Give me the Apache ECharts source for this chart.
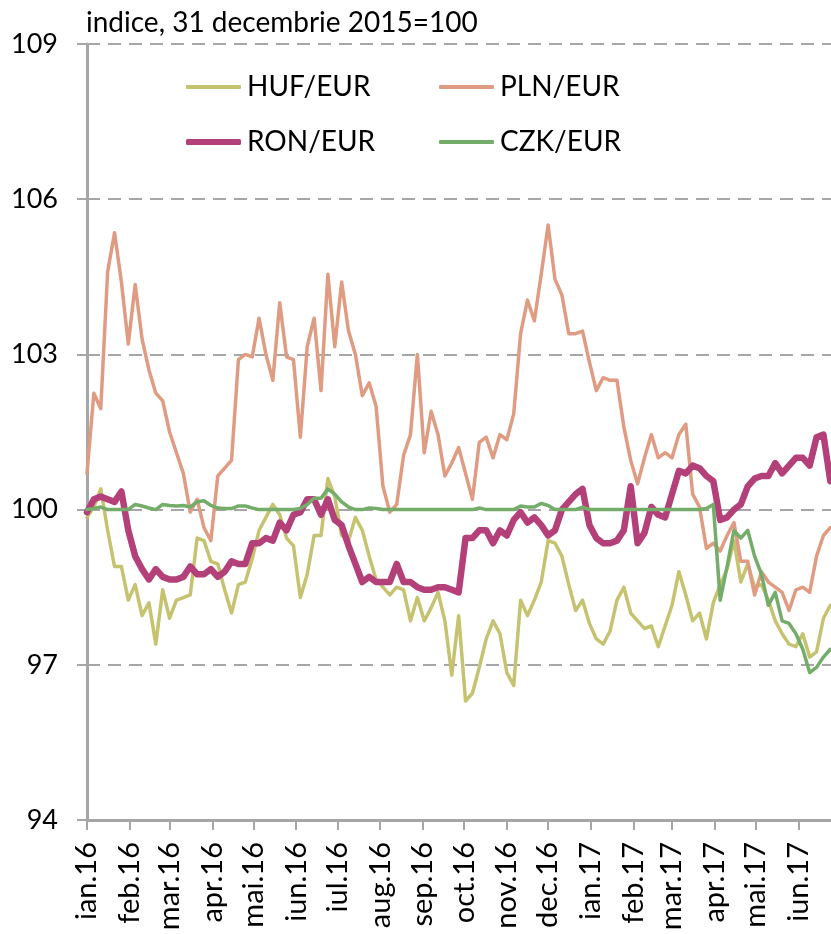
<!DOCTYPE html>
<html>
<head>
<meta charset="utf-8">
<script src="https://cdn.jsdelivr.net/npm/echarts@6/dist/echarts.min.js"></script>
<style>
html, body { margin: 0; padding: 0; background: #fff; }
#main { width: 831px; height: 934px; }
</style>
</head>
<body>
<div id="main"></div>
<script>
// un punct la fiecare 5 zile, incepand cu 1 ianuarie 2016
var startYear = 2016, startMonth = 0, startDay = 1;
var stepDays = 5;
var monthNames = ['ian', 'feb', 'mar', 'apr', 'mai', 'iun', 'iul', 'aug', 'sep', 'oct', 'nov', 'dec'];
var seriesNames = ['HUF/EUR', 'PLN/EUR', 'RON/EUR', 'CZK/EUR'];

var huf = [99.85, 100.05, 100.4, 99.6, 98.9, 98.9, 98.25, 98.55, 97.95, 98.2,
  97.4, 98.45, 97.9, 98.25, 98.3, 98.35, 99.45, 99.4, 99.0, 98.95,
  98.45, 98.0, 98.55, 98.6, 99.05, 99.6, 99.85, 100.1, 99.9, 99.45,
  99.3, 98.3, 98.75, 99.5, 99.5, 100.6, 100.25, 99.5, 99.4, 99.85,
  99.6, 99.1, 98.65, 98.5, 98.35, 98.5, 98.45, 97.85, 98.3, 97.85,
  98.1, 98.4, 97.85, 96.8, 97.95, 96.3, 96.45, 96.95, 97.5, 97.85,
  97.6, 96.85, 96.6, 98.25, 97.95, 98.25, 98.6, 99.4, 99.35, 99.1,
  98.55, 98.05, 98.25, 97.8, 97.5, 97.4, 97.65, 98.25, 98.5, 98.0,
  97.85, 97.7, 97.75, 97.35, 97.75, 98.15, 98.8, 98.35, 97.85, 98.0,
  97.5, 98.2, 98.55, 98.85, 99.4, 98.6, 98.95, 98.5, 98.55, 98.25,
  97.85, 97.6, 97.4, 97.35, 97.6, 97.15, 97.25, 97.9, 98.15];

var pln = [100.7, 102.25, 101.95, 104.6, 105.35, 104.4, 103.2, 104.35, 103.3, 102.7,
  102.25, 102.1, 101.5, 101.1, 100.7, 99.95, 100.2, 99.65, 99.4, 100.65,
  100.8, 100.95, 102.9, 103.0, 102.95, 103.7, 103.0, 102.5, 104.0, 102.95,
  102.9, 101.4, 103.15, 103.7, 102.3, 104.55, 103.15, 104.4, 103.45, 103.0,
  102.2, 102.45, 102.0, 100.45, 99.95, 100.1, 101.05, 101.45, 103.0, 101.1,
  101.9, 101.45, 100.65, 100.9, 101.2, 100.7, 100.2, 101.3, 101.4, 101.0,
  101.45, 101.35, 101.85, 103.4, 104.05, 103.65, 104.55, 105.5, 104.45, 104.15,
  103.4, 103.4, 103.45, 102.85, 102.3, 102.55, 102.5, 102.5, 101.6, 100.95,
  100.5, 101.0, 101.45, 101.0, 101.1, 101.0, 101.45, 101.65, 100.3, 100.05,
  99.25, 99.35, 99.2, 99.5, 99.75, 99.0, 99.0, 98.35, 98.8, 98.6,
  98.5, 98.4, 98.05, 98.45, 98.5, 98.4, 99.1, 99.5, 99.65];

var ron = [99.95, 100.2, 100.25, 100.2, 100.15, 100.35, 99.6, 99.1, 98.85, 98.65,
  98.85, 98.7, 98.65, 98.65, 98.7, 98.9, 98.75, 98.75, 98.85, 98.7,
  98.8, 99.0, 98.95, 98.95, 99.35, 99.35, 99.45, 99.4, 99.75, 99.6,
  99.9, 99.95, 100.2, 100.2, 99.9, 100.2, 99.8, 99.7, 99.3, 98.95,
  98.6, 98.7, 98.6, 98.6, 98.6, 98.95, 98.6, 98.6, 98.5, 98.45,
  98.45, 98.5, 98.5, 98.45, 98.4, 99.45, 99.45, 99.6, 99.6, 99.35,
  99.6, 99.5, 99.8, 99.95, 99.75, 99.85, 99.7, 99.5, 99.6, 100.0,
  100.15, 100.3, 100.4, 99.7, 99.45, 99.35, 99.35, 99.4, 99.6, 100.45,
  99.35, 99.55, 100.05, 99.9, 99.85, 100.3, 100.75, 100.7, 100.85, 100.8,
  100.65, 100.55, 99.8, 99.85, 100.0, 100.1, 100.45, 100.6, 100.65, 100.65,
  100.9, 100.7, 100.85, 101.0, 101.0, 100.85, 101.4, 101.45, 100.55];

var czk = [100.0, 100.02, 100.05, 100.0, 100.0, 100.0, 100.0, 100.1, 100.07, 100.03,
  100.0, 100.1, 100.08, 100.07, 100.08, 100.05, 100.15, 100.17, 100.08, 100.03,
  100.02, 100.02, 100.07, 100.07, 100.03, 100.0, 100.0, 100.0, 100.0, 100.0,
  100.0, 100.02, 100.1, 100.22, 100.22, 100.4, 100.3, 100.15, 100.05, 100.0,
  100.0, 100.03, 100.02, 100.0, 100.0, 100.0, 100.0, 100.0, 100.0, 100.0,
  100.0, 100.0, 100.0, 100.0, 100.0, 100.0, 100.0, 100.03, 100.0, 100.0,
  100.0, 100.0, 100.0, 100.07, 100.05, 100.05, 100.12, 100.08, 100.0, 100.0,
  100.0, 100.0, 100.05, 100.0, 100.0, 100.0, 100.0, 100.0, 100.0, 100.0,
  100.0, 100.0, 100.0, 100.0, 100.0, 100.0, 100.0, 100.0, 100.0, 100.0,
  100.02, 100.1, 98.25, 98.9, 99.6, 99.45, 99.6, 99.1, 98.75, 98.15,
  98.4, 97.85, 97.8, 97.6, 97.3, 96.85, 96.95, 97.15, 97.3];

var colors = ['#C5C36F', '#DF9C82', '#B4407A', '#74AC69'];
var widths = [3.5, 3.5, 6.5, 3.5];
var allValues = [huf, pln, ron, czk];

function dateAt(i) {
  return new Date(startYear, startMonth, startDay + stepDays * i).getTime();
}

var myChart = echarts.init(document.getElementById('main'));

var series = allValues.map(function (vals, k) {
  return {
    name: seriesNames[k],
    type: 'line',
    symbol: 'none',
    smooth: false,
    animation: false,
    lineStyle: { color: colors[k], width: widths[k], join: 'round', cap: 'round' },
    itemStyle: { color: colors[k] },
    data: vals.map(function (v, i) { return [dateAt(i), v]; })
  };
});

// o legenda pentru fiecare serie, asezate pe doua randuri
var legendPos = [[186, 73], [439, 73], [186, 128], [439, 128]];
var legends = seriesNames.map(function (n, k) {
  return {
    data: [{ name: n, icon: 'roundRect' }],
    left: legendPos[k][0],
    top: legendPos[k][1],
    padding: 0,
    itemWidth: 55,
    itemHeight: k == 2 ? 6 : 4,
    itemGap: 0,
    selectedMode: false,
    textStyle: { fontFamily: 'Lato', fontSize: 28, color: '#000', padding: [0, 0, 0, 1] }
  };
});

var option = {
  backgroundColor: '#fff',
  animation: false,
  color: colors,
  title: {
    text: 'indice, 31 decembrie 2015=100',
    left: 86,
    top: 9,
    padding: 0,
    textStyle: { fontFamily: 'Lato', fontSize: 28, fontWeight: 'normal', color: '#000' }
  },
  legend: legends,
  grid: { left: 87, right: 0, top: 44, bottom: 114, containLabel: false, outerBoundsMode: 'none' },
  xAxis: {
    type: 'time',
    min: dateAt(0),
    max: new Date(2017, 5, 24, 12).getTime(),
    splitNumber: 18,
    minInterval: 28 * 86400000,
    maxInterval: 31 * 86400000,
    axisLine: { show: true, lineStyle: { color: '#A6A6A6', width: 3 } },
    axisTick: { show: true, length: 10, lineStyle: { color: '#A6A6A6', width: 2 } },
    splitLine: { show: false },
    axisLabel: {
      rotate: 90,
      margin: 22,
      showMinLabel: true,
      showMaxLabel: false,
      hideOverlap: false,
      fontFamily: 'Lato',
      fontSize: 29,
      color: '#000',
      formatter: function (val) {
        var d = new Date(val);
        return monthNames[d.getMonth()] + '.' + String(d.getFullYear()).slice(2);
      }
    }
  },
  yAxis: {
    type: 'value',
    min: 94,
    max: 109,
    interval: 3,
    axisLine: { show: true, lineStyle: { color: '#A6A6A6', width: 3 } },
    axisTick: { show: true, length: 10, lineStyle: { color: '#A6A6A6', width: 2 } },
    splitLine: { show: true, lineStyle: { color: '#A6A6A6', width: 2, type: [13, 8] } },
    axisLabel: { margin: 29, fontFamily: 'Lato', fontSize: 27, color: '#000' }
  },
  series: series
};

myChart.setOption(option);
</script>
</body>
</html>
